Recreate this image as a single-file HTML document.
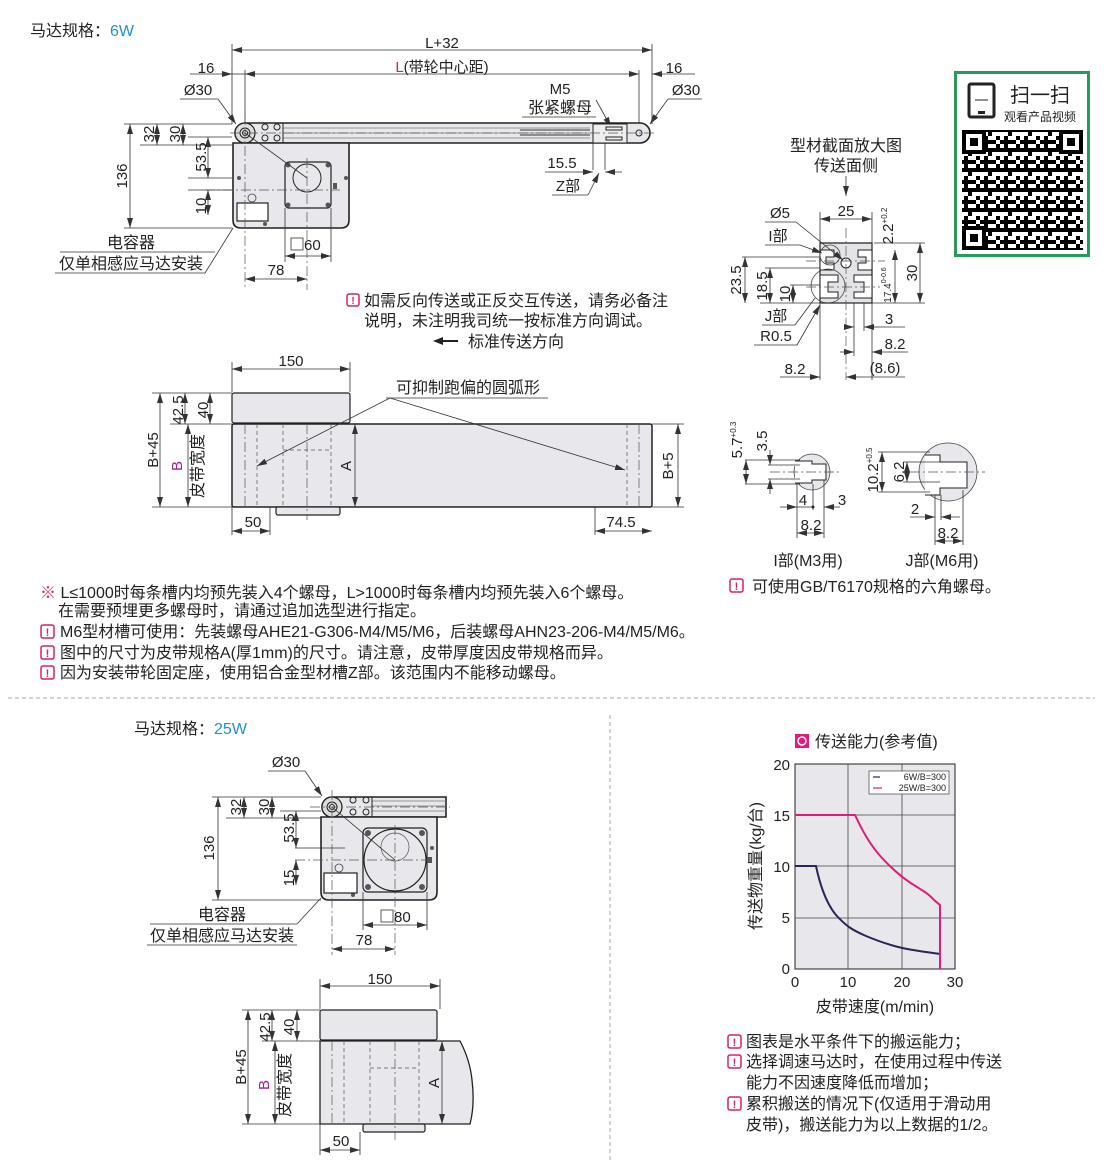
<!DOCTYPE html>
<html><head><meta charset="utf-8"><style>
html,body{margin:0;padding:0;background:#fff;}
svg{display:block;font-family:"Liberation Sans","Noto Sans CJK SC",sans-serif;}
text{fill:#222;}
.d{stroke:#333;stroke-width:0.8;fill:none;}
.dm{stroke:#333;stroke-width:0.8;fill:none;marker-start:url(#a);marker-end:url(#a);}
.de{stroke:#333;stroke-width:0.8;fill:none;marker-end:url(#a);}
.c{stroke:#555;stroke-width:0.7;fill:none;stroke-dasharray:10 3 2 3;}
.h{stroke:#555;stroke-width:0.7;fill:none;stroke-dasharray:4 3;}
.g{fill:#e8e8ec;stroke:#222;stroke-width:1.6;}
.t{font-size:16px;}
.s{font-size:15px;}
</style></head><body>
<svg width="1110" height="1160" viewBox="0 0 1110 1160" xmlns="http://www.w3.org/2000/svg">
<defs>
<marker id="a" viewBox="0 0 10 6" refX="10" refY="3" markerWidth="10" markerHeight="6" orient="auto-start-reverse" markerUnits="userSpaceOnUse"><path d="M0,0L10,3L0,6z" fill="#333"/></marker>
<pattern id="qr" width="12" height="12" patternUnits="userSpaceOnUse"><rect width="12" height="12" fill="#fff"/><rect x="0" y="0" width="4" height="4" fill="#000"/><rect x="4" y="4" width="4" height="8" fill="#000"/><rect x="8" y="0" width="4" height="4" fill="#000"/><rect x="0" y="8" width="4" height="4" fill="#000"/><rect x="8" y="8" width="4" height="4" fill="#000"/></pattern>
<pattern id="qr2" width="20" height="20" patternUnits="userSpaceOnUse"><rect width="20" height="20" fill="url(#qr)"/><rect x="4" y="0" width="8" height="4" fill="#000"/><rect x="12" y="12" width="4" height="8" fill="#fff"/><rect x="0" y="12" width="4" height="4" fill="#fff"/></pattern>
</defs>

<text x="30" y="36" class="t">马达规格：<tspan fill="#1f8fd8">6W</tspan></text>

<line class="d" x1="232" y1="44" x2="232" y2="124"/>
<line class="d" x1="652" y1="44" x2="652" y2="124"/>
<line class="dm" x1="232" y1="50" x2="652" y2="50"/>
<text x="442" y="48" class="s" text-anchor="middle">L+32</text>
<line class="d" x1="245" y1="70" x2="245" y2="124"/>
<line class="d" x1="639" y1="70" x2="639" y2="124"/>
<line class="dm" x1="245" y1="74" x2="639" y2="74"/>
<text x="442" y="72" class="s" text-anchor="middle"><tspan fill="#d6206b">L</tspan>(带轮中心距)</text>
<line class="de" x1="190" y1="74" x2="232" y2="74"/>
<line class="d" x1="232" y1="74" x2="245" y2="74"/>
<text x="206" y="73" class="s" text-anchor="middle">16</text>
<line class="de" x1="695" y1="74" x2="652" y2="74"/>
<text x="674" y="73" class="s" text-anchor="middle">16</text>
<text x="198" y="95" class="s" text-anchor="middle">Ø30</text>
<line class="d" x1="180" y1="99" x2="218" y2="99"/>
<line class="de" x1="218" y1="99" x2="236" y2="124"/>
<text x="686" y="95" class="s" text-anchor="middle">Ø30</text>
<line class="d" x1="668" y1="99" x2="702" y2="99"/>
<line class="de" x1="668" y1="99" x2="650" y2="124"/>
<text x="560" y="94" class="s" text-anchor="middle">M5</text>
<text x="560" y="113" class="t" text-anchor="middle">张紧螺母</text>
<line class="d" x1="522" y1="117" x2="596" y2="117"/>
<line class="de" x1="596" y1="100" x2="611" y2="127"/>

<path class="g" d="M245,123 L640,123 A10,10 0 0 1 640,143 L245,143 A10,10 0 0 1 245,123z"/>
<line x1="283" y1="128" x2="590" y2="128" stroke="#777" stroke-width="0.7"/>
<line x1="283" y1="133" x2="590" y2="133" stroke="#777" stroke-width="0.7"/>
<line x1="283" y1="138" x2="590" y2="138" stroke="#777" stroke-width="0.7"/>
<line x1="520" y1="130" x2="590" y2="130" stroke="#333" stroke-width="1"/>
<line x1="520" y1="135" x2="590" y2="135" stroke="#333" stroke-width="1"/>
<line x1="283" y1="123" x2="283" y2="143" stroke="#222" stroke-width="1"/>
<rect x="593" y="124" width="34" height="19" fill="#eee" stroke="#222" stroke-width="1"/>
<rect x="606" y="127" width="16" height="3" fill="none" stroke="#222" stroke-width="1"/>
<rect x="606" y="137" width="16" height="3" fill="none" stroke="#222" stroke-width="1"/>
<circle cx="245" cy="133" r="10" fill="#ddd" stroke="#222" stroke-width="1.2"/>
<circle cx="245" cy="133" r="5" fill="none" stroke="#222" stroke-width="1"/>
<circle cx="245" cy="133" r="2.5" fill="none" stroke="#222" stroke-width="1"/>
<circle cx="639" cy="133" r="3" fill="none" stroke="#222" stroke-width="1"/>
<g fill="none" stroke="#222" stroke-width="1"><circle cx="265" cy="127" r="3"/><circle cx="277" cy="127" r="3"/><circle cx="265" cy="138" r="3"/><circle cx="277" cy="138" r="3"/></g>
<path class="g" d="M233,143 L349,143 L349,220 Q349,228 341,228 L241,228 Q233,228 233,220z"/>
<rect x="285" y="162" width="46" height="46" rx="4" fill="none" stroke="#222" stroke-width="1.2"/>
<circle cx="307" cy="178" r="14" fill="none" stroke="#222" stroke-width="1"/>
<g fill="#555"><circle cx="288" cy="165" r="2.5"/><circle cx="328" cy="165" r="2.5"/><circle cx="288" cy="205" r="2.5"/><circle cx="328" cy="205" r="2.5"/><circle cx="239" cy="178" r="2"/><circle cx="346" cy="178" r="2"/><circle cx="265" cy="224" r="2"/></g>
<rect x="333" y="183" width="4" height="6" fill="#555"/>
<rect x="237" y="203" width="31" height="18" fill="#fff" stroke="#222" stroke-width="1.2"/>
<circle cx="252" cy="198" r="4" fill="none" stroke="#444" stroke-width="0.8"/>
<line class="c" x1="245" y1="110" x2="245" y2="290"/>
<line class="c" x1="307" y1="158" x2="307" y2="290"/>
<line class="c" x1="205" y1="190" x2="340" y2="190"/>
<line class="c" x1="230" y1="133" x2="655" y2="133"/>
<line class="d" x1="245" y1="133" x2="307" y2="178"/>
<line class="d" x1="124" y1="124" x2="232" y2="124"/>
<line class="d" x1="124" y1="228" x2="232" y2="228"/>
<line class="d" x1="140" y1="145" x2="232" y2="145"/>
<line class="d" x1="188" y1="178" x2="232" y2="178"/>
<line class="d" x1="188" y1="190" x2="232" y2="190"/>
<line class="d" x1="188" y1="137" x2="232" y2="137"/>
<line class="dm" x1="130" y1="124" x2="130" y2="228"/>
<text transform="translate(127,176) rotate(-90)" class="s" text-anchor="middle">136</text>
<line class="dm" x1="157" y1="124" x2="157" y2="145"/>
<text transform="translate(154,134) rotate(-90)" class="s" text-anchor="middle">32</text>
<line class="dm" x1="183" y1="124" x2="183" y2="145"/>
<text transform="translate(180,134) rotate(-90)" class="s" text-anchor="middle">30</text>
<line class="dm" x1="208" y1="137" x2="208" y2="178"/>
<text transform="translate(206,157) rotate(-90)" class="s" text-anchor="middle">53.5</text>
<line class="dm" x1="208" y1="190" x2="208" y2="215"/>
<text transform="translate(206,206) rotate(-90)" class="s" text-anchor="middle">10</text>
<text x="131" y="248" class="t" text-anchor="middle">电容器</text>
<line class="d" x1="60" y1="252" x2="215" y2="252"/>
<text x="131" y="269" class="t" text-anchor="middle">仅单相感应马达安装</text>
<line class="d" x1="55" y1="273" x2="205" y2="273"/>
<line class="d" x1="205" y1="273" x2="233" y2="228"/>
<line class="d" x1="285" y1="208" x2="285" y2="262"/>
<line class="d" x1="331" y1="208" x2="331" y2="262"/>
<line class="dm" x1="285" y1="256" x2="331" y2="256"/>
<rect x="291" y="238" width="12" height="12" fill="none" stroke="#333" stroke-width="0.8"/>
<text x="304" y="250" class="s">60</text>
<line class="dm" x1="245" y1="279" x2="307" y2="279"/>
<text x="276" y="275" class="s" text-anchor="middle">78</text>
<line class="d" x1="593" y1="143" x2="593" y2="170"/>
<line class="d" x1="605" y1="143" x2="605" y2="170"/>
<line class="de" x1="545" y1="172" x2="593" y2="172"/>
<line class="de" x1="622" y1="172" x2="605" y2="172"/>
<text x="562" y="168" class="s" text-anchor="middle">15.5</text>
<text x="568" y="191" class="s" text-anchor="middle">Z部</text>
<line class="d" x1="552" y1="195" x2="588" y2="195"/>
<line class="de" x1="588" y1="195" x2="599" y2="173"/>

<rect x="347" y="294" width="12" height="12" rx="2" fill="none" stroke="#d6206b" stroke-width="1.5"/>
<text x="353" y="304" font-size="10" font-weight="bold" text-anchor="middle" style="fill:#d6206b">!</text>
<text x="364" y="306" class="t">如需反向传送或正反交互传送，请务必备注</text>
<text x="364" y="326" class="t">说明，未注明我司统一按标准方向调试。</text>
<line x1="440" y1="341" x2="458" y2="341" stroke="#222" stroke-width="2"/>
<path d="M433,341 L443,337 L443,345z" fill="#222"/>
<text x="468" y="347" class="t">标准传送方向</text>

<line class="d" x1="232" y1="362" x2="232" y2="392"/>
<line class="d" x1="350" y1="362" x2="350" y2="392"/>
<line class="dm" x1="232" y1="369" x2="350" y2="369"/>
<text x="291" y="366" class="s" text-anchor="middle">150</text>
<rect x="232" y="393" width="118" height="30" rx="2" fill="#e8e8ec" stroke="#222" stroke-width="1.2"/>
<rect x="232" y="424" width="420" height="83" rx="2" fill="#e8e8ec" stroke="#222" stroke-width="1.5"/>
<rect x="276" y="507" width="64" height="8" rx="2" fill="#e8e8ec" stroke="#222" stroke-width="1.2"/>
<line class="c" x1="245" y1="424" x2="245" y2="507"/>
<line class="h" x1="257" y1="424" x2="257" y2="507"/>
<line class="h" x1="283" y1="424" x2="283" y2="507"/>
<line class="h" x1="331" y1="424" x2="331" y2="507"/>
<line class="h" x1="283" y1="450" x2="331" y2="450"/>
<line class="c" x1="307" y1="424" x2="307" y2="520"/>
<line class="h" x1="627" y1="424" x2="627" y2="507"/>
<line class="c" x1="639" y1="424" x2="639" y2="507"/>
<line class="d" x1="152" y1="393" x2="232" y2="393"/>
<line class="d" x1="152" y1="507" x2="232" y2="507"/>
<line class="d" x1="170" y1="424" x2="232" y2="424"/>
<line class="dm" x1="160" y1="393" x2="160" y2="507"/>
<text transform="translate(158,450) rotate(-90)" class="s" text-anchor="middle">B+45</text>
<line class="dm" x1="185" y1="393" x2="185" y2="424"/>
<text transform="translate(183,410) rotate(-90)" class="s" text-anchor="middle">42.5</text>
<line class="dm" x1="210" y1="393" x2="210" y2="424"/>
<text transform="translate(208,410) rotate(-90)" class="s" text-anchor="middle">40</text>
<line class="dm" x1="188" y1="424" x2="188" y2="507"/>
<text transform="translate(182,466) rotate(-90)" class="s" text-anchor="middle" style="fill:#a0208a">B</text>
<text transform="translate(203,466) rotate(-90)" class="t" text-anchor="middle">皮带宽度</text>
<line class="dm" x1="355" y1="424" x2="355" y2="507"/>
<text transform="translate(351,466) rotate(-90)" class="s" text-anchor="middle">A</text>
<line class="d" x1="652" y1="424" x2="684" y2="424"/>
<line class="d" x1="652" y1="507" x2="684" y2="507"/>
<line class="dm" x1="678" y1="424" x2="678" y2="507"/>
<text transform="translate(673,466) rotate(-90)" class="s" text-anchor="middle">B+5</text>
<line class="d" x1="232" y1="507" x2="232" y2="535"/>
<line class="d" x1="270" y1="507" x2="270" y2="535"/>
<line class="dm" x1="232" y1="531" x2="270" y2="531"/>
<text x="253" y="527" class="s" text-anchor="middle">50</text>
<line class="d" x1="595" y1="507" x2="595" y2="535"/>
<line class="dm" x1="595" y1="531" x2="652" y2="531"/>
<text x="621" y="527" class="s" text-anchor="middle">74.5</text>
<text x="396" y="393" class="t">可抑制跑偏的圆弧形</text>
<line class="d" x1="386" y1="398" x2="548" y2="398"/>
<line class="de" x1="390" y1="398" x2="257" y2="466"/>
<line class="de" x1="390" y1="398" x2="625" y2="470"/>

<text x="846" y="151" class="t" text-anchor="middle">型材截面放大图</text>
<text x="846" y="171" class="t" text-anchor="middle">传送面侧</text>
<line class="de" x1="846" y1="176" x2="846" y2="196"/>
<path d="M820,243 L872,243 L872,303 L820,303z" fill="#e4e4e8" stroke="#222" stroke-width="1.2"/>
<path d="M820,250 L834,250 L834,257 L826,257 L826,263 L834,263 L834,270 L820,270z" fill="#fff" stroke="#222" stroke-width="1"/>
<path d="M872,250 L858,250 L858,257 L866,257 L866,263 L858,263 L858,270 L872,270z" fill="#fff" stroke="#222" stroke-width="1"/>
<path d="M820,275 L838,275 L838,282 L828,282 L828,292 L838,292 L838,298 L820,298z" fill="#fff" stroke="#222" stroke-width="1"/>
<path d="M872,275 L854,275 L854,282 L864,282 L864,292 L854,292 L854,298 L872,298z" fill="#fff" stroke="#222" stroke-width="1"/>
<circle cx="846" cy="263" r="5" fill="#fff" stroke="#222" stroke-width="1"/>
<circle cx="830" cy="255" r="10" fill="none" stroke="#444" stroke-width="0.8"/>
<circle cx="828" cy="286" r="17" fill="none" stroke="#444" stroke-width="0.8"/>
<line class="c" x1="846" y1="228" x2="846" y2="380"/>
<line class="c" x1="806" y1="261" x2="885" y2="261"/>
<line class="c" x1="806" y1="287" x2="880" y2="287"/>
<line class="d" x1="820" y1="212" x2="820" y2="243"/>
<line class="d" x1="872" y1="212" x2="872" y2="243"/>
<line class="dm" x1="820" y1="219" x2="872" y2="219"/>
<text x="846" y="216" class="s" text-anchor="middle">25</text>
<text transform="translate(893,226) rotate(-90)" class="s" text-anchor="middle">2.2<tspan font-size="8" dy="-6">+0.2</tspan></text>
<line class="d" x1="874" y1="243" x2="925" y2="243"/>
<line class="d" x1="760" y1="303" x2="925" y2="303"/>
<line class="dm" x1="920" y1="243" x2="920" y2="303"/>
<text transform="translate(917,273) rotate(-90)" class="s" text-anchor="middle">30</text>
<line class="dm" x1="895" y1="250" x2="895" y2="303"/>
<text transform="translate(891,285) rotate(-90)" font-size="10" text-anchor="middle">17.4<tspan font-size="7" dy="-5">0-0.6</tspan></text>
<line class="d" x1="742" y1="257" x2="820" y2="257"/>
<line class="d" x1="765" y1="268" x2="820" y2="268"/>
<line class="d" x1="790" y1="285" x2="820" y2="285"/>
<line class="dm" x1="745" y1="257" x2="745" y2="303"/>
<text transform="translate(741,280) rotate(-90)" class="s" text-anchor="middle">23.5</text>
<line class="dm" x1="770" y1="268" x2="770" y2="303"/>
<text transform="translate(767,286) rotate(-90)" class="s" text-anchor="middle">18.5</text>
<line class="dm" x1="793" y1="285" x2="793" y2="303"/>
<text transform="translate(790,294) rotate(-90)" class="s" text-anchor="middle">10</text>
<text x="780" y="218" class="s" text-anchor="middle">Ø5</text>
<line class="d" x1="765" y1="222" x2="796" y2="222"/>
<line class="de" x1="796" y1="222" x2="843" y2="260"/>
<text x="778" y="241" class="s" text-anchor="middle">I部</text>
<line class="d" x1="765" y1="245" x2="800" y2="245"/>
<line class="de" x1="800" y1="245" x2="822" y2="253"/>
<text x="776" y="321" class="s" text-anchor="middle">J部</text>
<line class="d" x1="762" y1="325" x2="795" y2="325"/>
<line class="d" x1="795" y1="325" x2="815" y2="298"/>
<text x="776" y="341" class="s" text-anchor="middle">R0.5</text>
<line class="d" x1="754" y1="345" x2="797" y2="345"/>
<line class="de" x1="797" y1="345" x2="820" y2="305"/>
<line class="d" x1="854" y1="303" x2="854" y2="356"/>
<line class="d" x1="864" y1="303" x2="864" y2="331"/>
<line class="d" x1="872" y1="303" x2="872" y2="380"/>
<line class="d" x1="820" y1="303" x2="820" y2="380"/>
<line class="de" x1="845" y1="327" x2="854" y2="327"/>
<line class="de" x1="880" y1="327" x2="864" y2="327"/>
<text x="889" y="324" class="s" text-anchor="middle">3</text>
<line class="d" x1="880" y1="327" x2="905" y2="327"/>
<line class="de" x1="840" y1="352" x2="854" y2="352"/>
<line class="de" x1="890" y1="352" x2="872" y2="352"/>
<line class="d" x1="890" y1="352" x2="908" y2="352"/>
<text x="895" y="349" class="s" text-anchor="middle">8.2</text>
<line class="de" x1="780" y1="377" x2="820" y2="377"/>
<line class="de" x1="860" y1="377" x2="846" y2="377"/>
<line class="d" x1="860" y1="377" x2="905" y2="377"/>
<text x="795" y="374" class="s" text-anchor="middle">8.2</text>
<text x="885" y="373" class="s" text-anchor="middle">(8.6)</text>

<circle cx="812" cy="472" r="18" fill="#e8e8ec" stroke="#444" stroke-width="0.8"/>
<path d="M795,461 L812,461 L812,464 L826,464 L826,480 L812,480 L812,483 L795,483" fill="#fff" stroke="#222" stroke-width="1"/>
<line class="c" x1="770" y1="472" x2="840" y2="472"/>
<line class="d" x1="745" y1="460" x2="800" y2="460"/>
<line class="d" x1="745" y1="484" x2="800" y2="484"/>
<line class="d" x1="768" y1="465" x2="800" y2="465"/>
<line class="d" x1="768" y1="479" x2="800" y2="479"/>
<line class="dm" x1="746" y1="460" x2="746" y2="484"/>
<text transform="translate(742,440) rotate(-90)" class="s" text-anchor="middle">5.7<tspan font-size="8" dy="-6">+0.3</tspan></text>
<line class="de" x1="770" y1="450" x2="770" y2="465"/>
<line class="de" x1="770" y1="494" x2="770" y2="479"/>
<text transform="translate(767,441) rotate(-90)" class="s" text-anchor="middle">3.5</text>
<line class="d" x1="797" y1="484" x2="797" y2="538"/>
<line class="d" x1="813" y1="484" x2="813" y2="510"/>
<line class="d" x1="824" y1="480" x2="824" y2="538"/>
<line class="de" x1="780" y1="507" x2="797" y2="507"/>
<line class="de" x1="840" y1="507" x2="824" y2="507"/>
<line class="d" x1="797" y1="507" x2="813" y2="507"/>
<circle cx="813" cy="507" r="1.5" fill="#222"/>
<text x="803" y="505" class="s" text-anchor="middle">4</text>
<text x="842" y="505" class="s" text-anchor="middle">3</text>
<line class="dm" x1="797" y1="533" x2="824" y2="533"/>
<text x="811" y="530" class="s" text-anchor="middle">8.2</text>

<circle cx="948" cy="472" r="29" fill="#e8e8ec" stroke="#444" stroke-width="0.8"/>
<path d="M925,455 L940,455 L940,462 L967,462 L967,488 L940,488 L940,495 L925,495" fill="#fff" stroke="#222" stroke-width="1"/>
<line class="c" x1="910" y1="472" x2="985" y2="472"/>
<line class="d" x1="878" y1="452" x2="930" y2="452"/>
<line class="d" x1="878" y1="492" x2="930" y2="492"/>
<line class="d" x1="903" y1="462" x2="940" y2="462"/>
<line class="d" x1="903" y1="482" x2="940" y2="482"/>
<line class="dm" x1="882" y1="452" x2="882" y2="492"/>
<text transform="translate(878,470) rotate(-90)" class="s" text-anchor="middle">10.2<tspan font-size="8" dy="-6">+0.5</tspan></text>
<line class="dm" x1="907" y1="462" x2="907" y2="482"/>
<text transform="translate(904,472) rotate(-90)" class="s" text-anchor="middle">6.2</text>
<line class="d" x1="935" y1="495" x2="935" y2="545"/>
<line class="d" x1="941" y1="495" x2="941" y2="520"/>
<line class="d" x1="963" y1="490" x2="963" y2="545"/>
<line class="de" x1="910" y1="517" x2="935" y2="517"/>
<line class="de" x1="960" y1="517" x2="941" y2="517"/>
<text x="915" y="514" class="s" text-anchor="middle">2</text>
<line class="dm" x1="935" y1="541" x2="963" y2="541"/>
<text x="948" y="538" class="s" text-anchor="middle">8.2</text>
<text x="808" y="566" class="t" text-anchor="middle">I部(M3用)</text>
<text x="942" y="566" class="t" text-anchor="middle">J部(M6用)</text>
<rect x="730" y="579" width="13" height="13" rx="2" fill="none" stroke="#d6206b" stroke-width="1.5"/>
<text x="736.5" y="590" font-size="11" font-weight="bold" text-anchor="middle" style="fill:#d6206b">!</text>
<text x="752" y="592" class="t">可使用GB/T6170规格的六角螺母。</text>

<rect x="955.5" y="72.5" width="133" height="183" fill="#fff" stroke="#2a9a5a" stroke-width="3"/>
<rect x="969" y="84" width="25" height="33" rx="2" fill="none" stroke="#222" stroke-width="3"/>
<line x1="975" y1="100" x2="988" y2="100" stroke="#222" stroke-width="1"/>
<rect x="978" y="111" width="7" height="3" fill="#222"/>
<text x="1040" y="102" font-size="20" text-anchor="middle">扫一扫</text>
<text x="1040" y="121" font-size="12" text-anchor="middle">观看产品视频</text>
<rect x="962" y="130" width="121" height="120" fill="url(#qr2)"/>
<g fill="#fff" stroke="#000" stroke-width="4"><rect x="964" y="132" width="20" height="20"/><rect x="1061" y="132" width="20" height="20"/><rect x="964" y="228" width="20" height="20"/></g>
<g fill="#000"><rect x="970" y="138" width="8" height="8"/><rect x="1067" y="138" width="8" height="8"/><rect x="970" y="234" width="8" height="8"/></g>

<text x="40" y="598" class="t"><tspan style="fill:#d6206b">※</tspan> L≤1000时每条槽内均预先装入4个螺母，L&gt;1000时每条槽内均预先装入6个螺母。</text>
<text x="58" y="616" class="t">在需要预埋更多螺母时，请通过追加选型进行指定。</text>
<g fill="none" stroke="#d6206b" stroke-width="1.5"><rect x="41" y="625" width="13" height="13" rx="2"/><rect x="41" y="646" width="13" height="13" rx="2"/><rect x="41" y="666" width="13" height="13" rx="2"/></g>
<g font-size="11" font-weight="bold" text-anchor="middle"><text x="47.5" y="636" style="fill:#d6206b">!</text><text x="47.5" y="657" style="fill:#d6206b">!</text><text x="47.5" y="677" style="fill:#d6206b">!</text></g>
<text x="60" y="637" class="t">M6型材槽可使用：先装螺母AHE21-G306-M4/M5/M6，后装螺母AHN23-206-M4/M5/M6。</text>
<text x="60" y="658" class="t">图中的尺寸为皮带规格A(厚1mm)的尺寸。请注意，皮带厚度因皮带规格而异。</text>
<text x="60" y="678" class="t">因为安装带轮固定座，使用铝合金型材槽Z部。该范围内不能移动螺母。</text>

<line x1="8" y1="698" x2="1095" y2="698" stroke="#aaa" stroke-width="1" stroke-dasharray="4 3"/>
<line x1="610" y1="715" x2="610" y2="1160" stroke="#aaa" stroke-width="1" stroke-dasharray="4 3"/>

<text x="134" y="734" class="t">马达规格：<tspan fill="#1f8fd8">25W</tspan></text>
<text x="286" y="767" class="s" text-anchor="middle">Ø30</text>
<line class="d" x1="268" y1="771" x2="305" y2="771"/>
<line class="de" x1="305" y1="771" x2="322" y2="796"/>
<path class="g" d="M332,797 L446,797 L446,817 L332,817 A10,10 0 0 1 332,797z"/>
<line x1="372" y1="801" x2="446" y2="801" stroke="#777" stroke-width="0.7"/>
<line x1="372" y1="806" x2="446" y2="806" stroke="#777" stroke-width="0.7"/>
<line x1="372" y1="811" x2="446" y2="811" stroke="#777" stroke-width="0.7"/>
<line x1="372" y1="797" x2="372" y2="817" stroke="#222" stroke-width="1"/>
<path class="g" d="M321,817 L437,817 L437,892 Q437,900 429,900 L329,900 Q321,900 321,892z"/>
<circle cx="332" cy="807" r="10" fill="#ddd" stroke="#222" stroke-width="1.2"/>
<circle cx="332" cy="807" r="5" fill="none" stroke="#222" stroke-width="1"/>
<circle cx="332" cy="807" r="2.5" fill="none" stroke="#222" stroke-width="1"/>
<g fill="none" stroke="#222" stroke-width="1"><circle cx="353" cy="800" r="3"/><circle cx="366" cy="800" r="3"/><circle cx="353" cy="812" r="3"/><circle cx="366" cy="812" r="3"/></g>
<rect x="363" y="828" width="64" height="64" rx="5" fill="none" stroke="#222" stroke-width="1.2"/>
<circle cx="395" cy="860" r="31" fill="none" stroke="#222" stroke-width="1.2"/>
<circle cx="395" cy="847" r="14" fill="none" stroke="#555" stroke-width="0.7"/>
<g fill="#555"><circle cx="368" cy="833" r="3"/><circle cx="422" cy="833" r="3"/><circle cx="368" cy="887" r="3"/><circle cx="422" cy="887" r="3"/><circle cx="432" cy="848" r="2"/><circle cx="353" cy="895" r="2"/></g>
<rect x="427" y="857" width="5" height="6" fill="#555"/>
<rect x="324" y="873" width="33" height="20" fill="#fff" stroke="#222" stroke-width="1.2"/>
<circle cx="339" cy="868" r="4" fill="none" stroke="#444" stroke-width="0.8"/>
<line class="c" x1="332" y1="790" x2="332" y2="955"/>
<line class="c" x1="395" y1="825" x2="395" y2="955"/>
<line class="c" x1="295" y1="860" x2="432" y2="860"/>
<line class="c" x1="310" y1="807" x2="450" y2="807"/>
<line class="d" x1="332" y1="807" x2="395" y2="860"/>
<line class="d" x1="212" y1="797" x2="321" y2="797"/>
<line class="d" x1="212" y1="900" x2="321" y2="900"/>
<line class="d" x1="226" y1="818" x2="321" y2="818"/>
<line class="d" x1="280" y1="811" x2="321" y2="811"/>
<line class="d" x1="295" y1="848" x2="345" y2="848"/>
<line class="dm" x1="218" y1="797" x2="218" y2="900"/>
<text transform="translate(214,848) rotate(-90)" class="s" text-anchor="middle">136</text>
<line class="dm" x1="244" y1="797" x2="244" y2="818"/>
<text transform="translate(241,807) rotate(-90)" class="s" text-anchor="middle">32</text>
<line class="dm" x1="272" y1="797" x2="272" y2="818"/>
<text transform="translate(269,807) rotate(-90)" class="s" text-anchor="middle">30</text>
<line class="dm" x1="296" y1="811" x2="296" y2="848"/>
<text transform="translate(294,828) rotate(-90)" class="s" text-anchor="middle">53.5</text>
<line class="dm" x1="296" y1="860" x2="296" y2="885"/>
<text transform="translate(294,878) rotate(-90)" class="s" text-anchor="middle">15</text>
<text x="222" y="920" class="t" text-anchor="middle">电容器</text>
<line class="d" x1="150" y1="924" x2="297" y2="924"/>
<text x="222" y="941" class="t" text-anchor="middle">仅单相感应马达安装</text>
<line class="d" x1="147" y1="945" x2="297" y2="945"/>
<line class="d" x1="297" y1="924" x2="321" y2="898"/>
<line class="d" x1="363" y1="892" x2="363" y2="930"/>
<line class="d" x1="427" y1="892" x2="427" y2="930"/>
<line class="dm" x1="363" y1="925" x2="427" y2="925"/>
<rect x="381" y="910" width="12" height="12" fill="none" stroke="#333" stroke-width="0.8"/>
<text x="394" y="922" class="s">80</text>
<line class="dm" x1="332" y1="949" x2="395" y2="949"/>
<text x="364" y="945" class="s" text-anchor="middle">78</text>

<line class="d" x1="320" y1="979" x2="320" y2="1009"/>
<line class="d" x1="440" y1="979" x2="440" y2="1009"/>
<line class="dm" x1="320" y1="986" x2="440" y2="986"/>
<text x="380" y="984" class="s" text-anchor="middle">150</text>
<rect x="320" y="1010" width="117" height="30" rx="2" fill="#e8e8ec" stroke="#222" stroke-width="1.2"/>
<path d="M320,1041 L460,1041 Q470,1060 472,1080 Q475,1105 470,1124 L320,1124z" fill="#e8e8ec" stroke="#222" stroke-width="1.3"/>
<rect x="363" y="1124" width="62" height="8" rx="2" fill="#e8e8ec" stroke="#222" stroke-width="1.2"/>
<line class="c" x1="332" y1="1041" x2="332" y2="1124"/>
<line class="h" x1="344" y1="1041" x2="344" y2="1124"/>
<line class="h" x1="370" y1="1041" x2="370" y2="1124"/>
<line class="h" x1="419" y1="1041" x2="419" y2="1124"/>
<line class="h" x1="370" y1="1068" x2="419" y2="1068"/>
<line class="c" x1="395" y1="1041" x2="395" y2="1140"/>
<line class="d" x1="242" y1="1010" x2="320" y2="1010"/>
<line class="d" x1="242" y1="1124" x2="320" y2="1124"/>
<line class="d" x1="262" y1="1041" x2="320" y2="1041"/>
<line class="dm" x1="248" y1="1010" x2="248" y2="1124"/>
<text transform="translate(246,1067) rotate(-90)" class="s" text-anchor="middle">B+45</text>
<line class="dm" x1="272" y1="1010" x2="272" y2="1041"/>
<text transform="translate(270,1027) rotate(-90)" class="s" text-anchor="middle">42.5</text>
<line class="dm" x1="297" y1="1010" x2="297" y2="1041"/>
<text transform="translate(294,1027) rotate(-90)" class="s" text-anchor="middle">40</text>
<line class="dm" x1="275" y1="1041" x2="275" y2="1124"/>
<text transform="translate(269,1085) rotate(-90)" class="s" text-anchor="middle" style="fill:#a0208a">B</text>
<text transform="translate(290,1085) rotate(-90)" class="t" text-anchor="middle">皮带宽度</text>
<line class="dm" x1="442" y1="1041" x2="442" y2="1124"/>
<text transform="translate(439,1083) rotate(-90)" class="s" text-anchor="middle">A</text>
<line class="d" x1="320" y1="1124" x2="320" y2="1155"/>
<line class="d" x1="360" y1="1132" x2="360" y2="1155"/>
<line class="dm" x1="320" y1="1150" x2="360" y2="1150"/>
<text x="341" y="1146" class="s" text-anchor="middle">50</text>

<rect x="795" y="734" width="14" height="14" fill="#e5197a"/>
<circle cx="802" cy="741" r="4" fill="none" stroke="#fff" stroke-width="1.5"/>
<text x="815" y="747" class="t">传送能力(参考值)</text>
<rect x="795" y="764" width="160" height="205" fill="#e8e8ec" stroke="#222" stroke-width="1"/>
<g stroke="#444" stroke-width="0.8"><line x1="848" y1="764" x2="848" y2="969"/><line x1="902" y1="764" x2="902" y2="969"/><line x1="795" y1="815" x2="955" y2="815"/><line x1="795" y1="866" x2="955" y2="866"/><line x1="795" y1="918" x2="955" y2="918"/></g>
<rect x="869" y="771" width="80" height="23" fill="#fff" stroke="#444" stroke-width="0.7"/>
<line x1="873" y1="777" x2="880" y2="777" stroke="#2b2455" stroke-width="1.2"/>
<text x="946" y="780" font-size="9" text-anchor="end">6W/B=300</text>
<line x1="873" y1="788" x2="882" y2="788" stroke="#e5197a" stroke-width="1.2"/>
<text x="946" y="791" font-size="9" text-anchor="end">25W/B=300</text>
<path d="M795,866 L816,866 C820,885 826,903 836,915 C846,926 852,930 866,936 C885,944 900,948 913,950 C925,952 933,953 940,954 L940,969" fill="none" stroke="#2b2455" stroke-width="2"/>
<path d="M795,815 L855,815 C862,830 870,845 882,858 C895,872 905,880 917,887 C925,892 930,895 934,900 L940,905 L940,969" fill="none" stroke="#e5197a" stroke-width="2"/>
<g font-size="15" text-anchor="end"><text x="790" y="770">20</text><text x="790" y="821">15</text><text x="790" y="872">10</text><text x="790" y="923">5</text><text x="790" y="974">0</text></g>
<g font-size="15" text-anchor="middle"><text x="795" y="987">0</text><text x="848" y="987">10</text><text x="902" y="987">20</text><text x="955" y="987">30</text></g>
<text x="875" y="1012" class="t" text-anchor="middle">皮带速度(m/min)</text>
<text transform="translate(761,866) rotate(-90)" class="t" text-anchor="middle">传送物重量(kg/台)</text>

<g fill="none" stroke="#d6206b" stroke-width="1.5"><rect x="728" y="1035" width="13" height="13" rx="2"/><rect x="728" y="1055" width="13" height="13" rx="2"/><rect x="728" y="1097" width="13" height="13" rx="2"/></g>
<g font-size="11" font-weight="bold" text-anchor="middle"><text x="734.5" y="1046" style="fill:#d6206b">!</text><text x="734.5" y="1066" style="fill:#d6206b">!</text><text x="734.5" y="1108" style="fill:#d6206b">!</text></g>
<text x="746" y="1047" class="t">图表是水平条件下的搬运能力；</text>
<text x="746" y="1067" class="t">选择调速马达时，在使用过程中传送</text>
<text x="746" y="1088" class="t">能力不因速度降低而增加；</text>
<text x="746" y="1109" class="t">累积搬送的情况下(仅适用于滑动用</text>
<text x="746" y="1130" class="t">皮带)，搬送能力为以上数据的1/2。</text>
</svg>
</body></html>
